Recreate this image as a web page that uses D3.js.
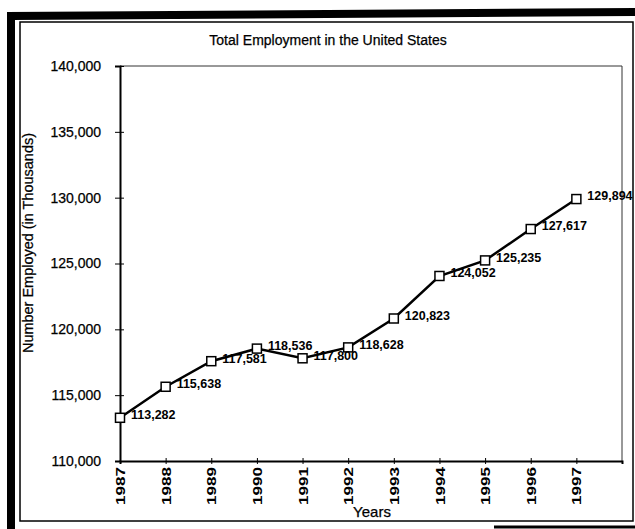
<!DOCTYPE html>
<html>
<head>
<meta charset="utf-8">
<script src="https://cdn.jsdelivr.net/npm/d3@7"></script>
<style>
  html, body { margin: 0; padding: 0; background: #fff; }
  svg { display: block; font-family: "Liberation Sans", Arial, sans-serif; }
</style>
</head>
<body>
<div id="chart"></div>
<script>
// Chart data
const years = [1987, 1988, 1989, 1990, 1991, 1992, 1993, 1994, 1995, 1996, 1997];
const employed = [113282, 115638, 117581, 118536, 117800, 118628, 120823, 124052, 125235, 127617, 129894];
const yTicks = [110000, 115000, 120000, 125000, 130000, 135000, 140000];

const width = 635, height = 529;
const plot = { left: 120, right: 622, top: 66, bottom: 461 };

const svg = d3.select("#chart").append("svg")
    .attr("width", width)
    .attr("height", height);

// Frames (scanned page look)
svg.append("rect")
    .attr("x", 20).attr("y", 22)
    .attr("width", 613).attr("height", 499)
    .attr("fill", "none").attr("stroke", "#000").attr("stroke-width", 1.5);
svg.append("path")
    .attr("d", "M11,529 L11,16 L635,12")
    .attr("fill", "none").attr("stroke", "#000").attr("stroke-width", 8);
svg.append("line")
    .attr("x1", 494).attr("x2", 635).attr("y1", 527).attr("y2", 527)
    .attr("stroke", "#000").attr("stroke-width", 3);

// Scales
const x = d3.scaleLinear().domain([1987, 1998]).range([plot.left, plot.right]);
const y = d3.scaleLinear().domain([110000, 140000]).range([plot.bottom, plot.top]);

// Plot frame: top and right thin
svg.append("path")
    .attr("d", `M${plot.left},${plot.top} L${plot.right},${plot.top} L${plot.right},${plot.bottom}`)
    .attr("fill", "none").attr("stroke", "#333").attr("stroke-width", 1);

// Y axis
const yAxis = svg.append("g")
    .attr("transform", `translate(${plot.left},0)`)
    .call(d3.axisLeft(y).tickValues(yTicks).tickSize(5).tickFormat(d3.format(",")));
yAxis.select(".domain").attr("stroke-width", 2);
yAxis.selectAll(".tick line").attr("x2", 4).attr("x1", -5).attr("stroke-width", 1);
yAxis.selectAll(".tick text")
    .attr("x", -19)
    .attr("font-size", 14)
    .attr("font-family", "Liberation Sans, Arial, sans-serif")
    .attr("stroke", "#000").attr("stroke-width", 0.25)
    .attr("fill", "#000");

// X axis
const xAxis = svg.append("g")
    .attr("transform", `translate(0,${plot.bottom})`)
    .call(d3.axisBottom(x).tickValues(years).tickSize(3).tickFormat(d3.format("d")));
xAxis.select(".domain").attr("stroke-width", 2);
xAxis.selectAll(".tick line").attr("y1", -3).attr("y2", 3);
xAxis.selectAll(".tick text")
    .attr("transform", "rotate(-90)")
    .attr("x", -6).attr("y", 0).attr("dy", "0.35em")
    .attr("text-anchor", "end")
    .attr("font-size", 13)
    .attr("font-weight", "bold")
    .attr("font-family", "Liberation Sans, Arial, sans-serif")
    .attr("textLength", 38)
    .attr("lengthAdjust", "spacingAndGlyphs")
    .attr("fill", "#000");

// Titles
svg.append("text")
    .attr("x", 328).attr("y", 45)
    .attr("text-anchor", "middle")
    .attr("font-size", 14)
    .attr("stroke", "#000").attr("stroke-width", 0.25)
    .text("Total Employment in the United States");

svg.append("text")
    .attr("x", 372).attr("y", 517)
    .attr("text-anchor", "middle")
    .attr("font-size", 15)
    .attr("stroke", "#000").attr("stroke-width", 0.25)
    .text("Years");

svg.append("text")
    .attr("transform", "translate(33,243) rotate(-90)")
    .attr("text-anchor", "middle")
    .attr("font-size", 14)
    .attr("stroke", "#000").attr("stroke-width", 0.25)
    .attr("textLength", 220)
    .attr("lengthAdjust", "spacingAndGlyphs")
    .text("Number Employed (in Thousands)");

// Line
const points = years.map((yr, i) => ({ year: yr, value: employed[i] }));
const line = d3.line().x(d => x(d.year)).y(d => y(d.value));

svg.append("path")
    .datum(points)
    .attr("d", line)
    .attr("fill", "none")
    .attr("stroke", "#000")
    .attr("stroke-width", 2.5);

// Markers
svg.selectAll(".marker")
    .data(points)
    .enter()
    .append("rect")
    .attr("class", "marker")
    .attr("x", d => x(d.year) - 4.5)
    .attr("y", d => y(d.value) - 4.5)
    .attr("width", 9).attr("height", 9)
    .attr("fill", "#fff")
    .attr("stroke", "#000")
    .attr("stroke-width", 1.5);

// Value labels
svg.selectAll(".val-label")
    .data(points)
    .enter()
    .append("text")
    .attr("class", "val-label")
    .attr("x", d => x(d.year) + 11)
    .attr("y", d => y(d.value) - 3)
    .attr("dy", "0.35em")
    .attr("font-size", 12.5)
    .attr("font-weight", "bold")
    .text(d => d3.format(",")(d.value));
</script>
</body>
</html>
